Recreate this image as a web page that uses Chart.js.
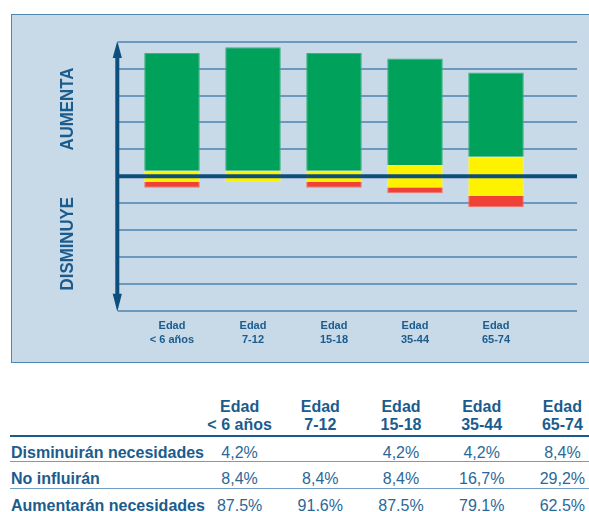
<!DOCTYPE html>
<html>
<head>
<meta charset="utf-8">
<script src="https://cdn.jsdelivr.net/npm/chart.js@4.4.1/dist/chart.umd.min.js"></script>
<style>
  html, body { margin: 0; padding: 0; background: #fff; }
  body { width: 589px; height: 512px; overflow: hidden; position: relative;
         font-family: "Liberation Sans", Arial, sans-serif; }
  #panel { position: absolute; left: 11px; top: 14px; width: 578px; height: 347px;
           background: #c8d9e8; border: 1px solid #4f87b3; border-right: none; }
  #panel canvas { display: block; }
  .t { position: absolute; white-space: nowrap; color: #1b5c8d; }
  .hdr { font-weight: bold; font-size: 16px; line-height: 18px; text-align: center; width: 80px; }
  .lbl { font-weight: bold; font-size: 16px; line-height: 20px; }
  .val { font-size: 16px; line-height: 20px; text-align: center; width: 80px; color: #2a6898; }
  .rule { position: absolute; left: 10px; width: 579px; }
</style>
</head>
<body>
<div id="panel"><canvas id="c" width="577" height="347"></canvas></div>
<div id="table"></div>
<script>
// ---- data ----
const ageLabels = [['Edad', '< 6 años'], ['Edad', '7-12'], ['Edad', '15-18'], ['Edad', '35-44'], ['Edad', '65-74']];
const disminuiran = [4.2, null, 4.2, 4.2, 8.4];   // Disminuirán necesidades
const noInfluiran = [8.4, 8.4, 8.4, 16.7, 29.2];  // No influirán
const aumentaran  = [87.5, 91.6, 87.5, 79.1, 62.5]; // Aumentarán necesidades
const rowNames = ['Disminuirán necesidades', 'No influirán', 'Aumentarán necesidades'];
const rowDecimal = [',', ',', '.'];
const axisWords = ['AUMENTA', 'DISMINUYE'];

const TEXT = '#1b5c8d';
const NAVY = '#0d4f7c';

// floating ranges: "no influirán" straddles zero, green above it, red below it
const greenData  = aumentaran.map((a, i) => ({ x: i, y: [noInfluiran[i] / 2, noInfluiran[i] / 2 + a] }));
const yellowData = noInfluiran.map((n, i) => ({ x: i, y: [-n / 2, n / 2] }));
const redData    = disminuiran.map((d, i) => ({ x: i, y: d == null ? null : [-noInfluiran[i] / 2 - d, -noInfluiran[i] / 2] }));

const decorPlugin = {
  id: 'decor',
  afterDatasetsDraw(chart) {
    const { ctx, chartArea: a, scales: { y } } = chart;
    ctx.save();
    // zero line over the bars
    const y0 = y.getPixelForValue(0);
    ctx.strokeStyle = NAVY; ctx.lineWidth = 4;
    ctx.beginPath(); ctx.moveTo(a.left - 2, y0); ctx.lineTo(a.right, y0); ctx.stroke();
    // vertical double arrow axis
    const ax = a.left - 0.7;
    const top = y.getPixelForValue(y.max) - 0.7, bot = y.getPixelForValue(y.min) + 0.7;
    ctx.lineWidth = 4;
    ctx.beginPath(); ctx.moveTo(ax, top + 10); ctx.lineTo(ax, bot - 10); ctx.stroke();
    ctx.fillStyle = NAVY;
    ctx.beginPath(); ctx.moveTo(ax, top); ctx.lineTo(ax - 4.6, top + 17); ctx.lineTo(ax + 4.6, top + 17); ctx.closePath(); ctx.fill();
    ctx.beginPath(); ctx.moveTo(ax, bot); ctx.lineTo(ax - 4.6, bot - 18); ctx.lineTo(ax + 4.6, bot - 18); ctx.closePath(); ctx.fill();
    // axis words
    ctx.fillStyle = TEXT;
    ctx.font = 'bold 19px "Liberation Sans", Arial, sans-serif';
    ctx.textAlign = 'center'; ctx.textBaseline = 'middle';
    [[axisWords[0], 50], [axisWords[1], -50]].forEach(([w, v]) => {
      ctx.save();
      ctx.translate(55.5, y.getPixelForValue(v));
      ctx.rotate(-Math.PI / 2);
      ctx.scale(0.885, 1);
      ctx.fillText(w, 0, 0);
      ctx.restore();
    });
    ctx.restore();
  }
};

new Chart(document.getElementById('c'), {
  type: 'bar',
  data: {
    datasets: [
      { label: 'Disminuirán necesidades', data: redData, backgroundColor: '#ef4136', borderColor: '#f1776d', borderWidth: 1 },
      { label: 'No influirán', data: yellowData, backgroundColor: '#fff200', borderColor: '#fff45a', borderWidth: 1 },
      { label: 'Aumentarán necesidades', data: greenData, backgroundColor: '#00a15a', borderColor: '#3fb37f', borderWidth: 1 }
    ]
  },
  options: {
    responsive: false,
    animation: false,
    grouped: false,
    barPercentage: 0.686,
    categoryPercentage: 1,
    layout: { padding: { top: 26.7, right: 12, bottom: 0, left: 0 } },
    plugins: { legend: { display: false }, tooltip: { enabled: false } },
    scales: {
      x: {
        type: 'linear',
        offset: false,
        min: -0.6667, max: 5,
        grid: { display: false, drawTicks: false, offset: false },
        border: { display: false },
        afterBuildTicks: s => { s.ticks = ageLabels.map((_, i) => ({ value: i })); },
        afterFit: s => { s.height = 51; },
        ticks: {
          autoSkip: false, maxRotation: 0, padding: 8,
          color: TEXT,
          font: { family: '"Liberation Sans", Arial, sans-serif', size: 11, weight: 'bold', lineHeight: 1.25 },
          callback: v => ageLabels[v]
        }
      },
      y: {
        min: -100, max: 100,
        ticks: { stepSize: 20, display: false },
        border: { display: false },
        grid: { color: '#6b98bf', lineWidth: 2, drawTicks: false },
        afterFit: s => { s.width = 106; }
      }
    }
  },
  plugins: [decorPlugin]
});

// ---- table ----
const tbl = document.getElementById('table');
const colX = ageLabels.map((_, i) => 239.6 + i * 80.7);
function add(cls, left, top, html, extra) {
  const d = document.createElement('div');
  d.className = cls; d.style.left = left + 'px'; d.style.top = top + 'px';
  if (extra) Object.assign(d.style, extra);
  d.innerHTML = html; tbl.appendChild(d); return d;
}
const esc = s => s.replace(/&/g, '&amp;').replace(/</g, '&lt;');
ageLabels.forEach((lines, i) => add('t hdr', colX[i] - 40, 397.7, lines.map(esc).join('<br>')));
add('rule', 10, 434.8, '', { height: '2.6px', background: TEXT });
const seriesRows = [disminuiran, noInfluiran, aumentaran];
seriesRows.forEach((vals, r) => {
  const cy = 452.7 + r * 26.65;
  add('t lbl', 11, cy - 10, esc(rowNames[r]));
  vals.forEach((v, i) => {
    if (v == null) return;
    add('t val', colX[i] - 40, cy - 10, v.toFixed(1).replace('.', rowDecimal[r]) + '%');
  });
  if (r < 2) add('rule', 10, cy + 8.6, '', { height: '1px', background: '#6f9dc5' });
});
</script>
</body>
</html>
